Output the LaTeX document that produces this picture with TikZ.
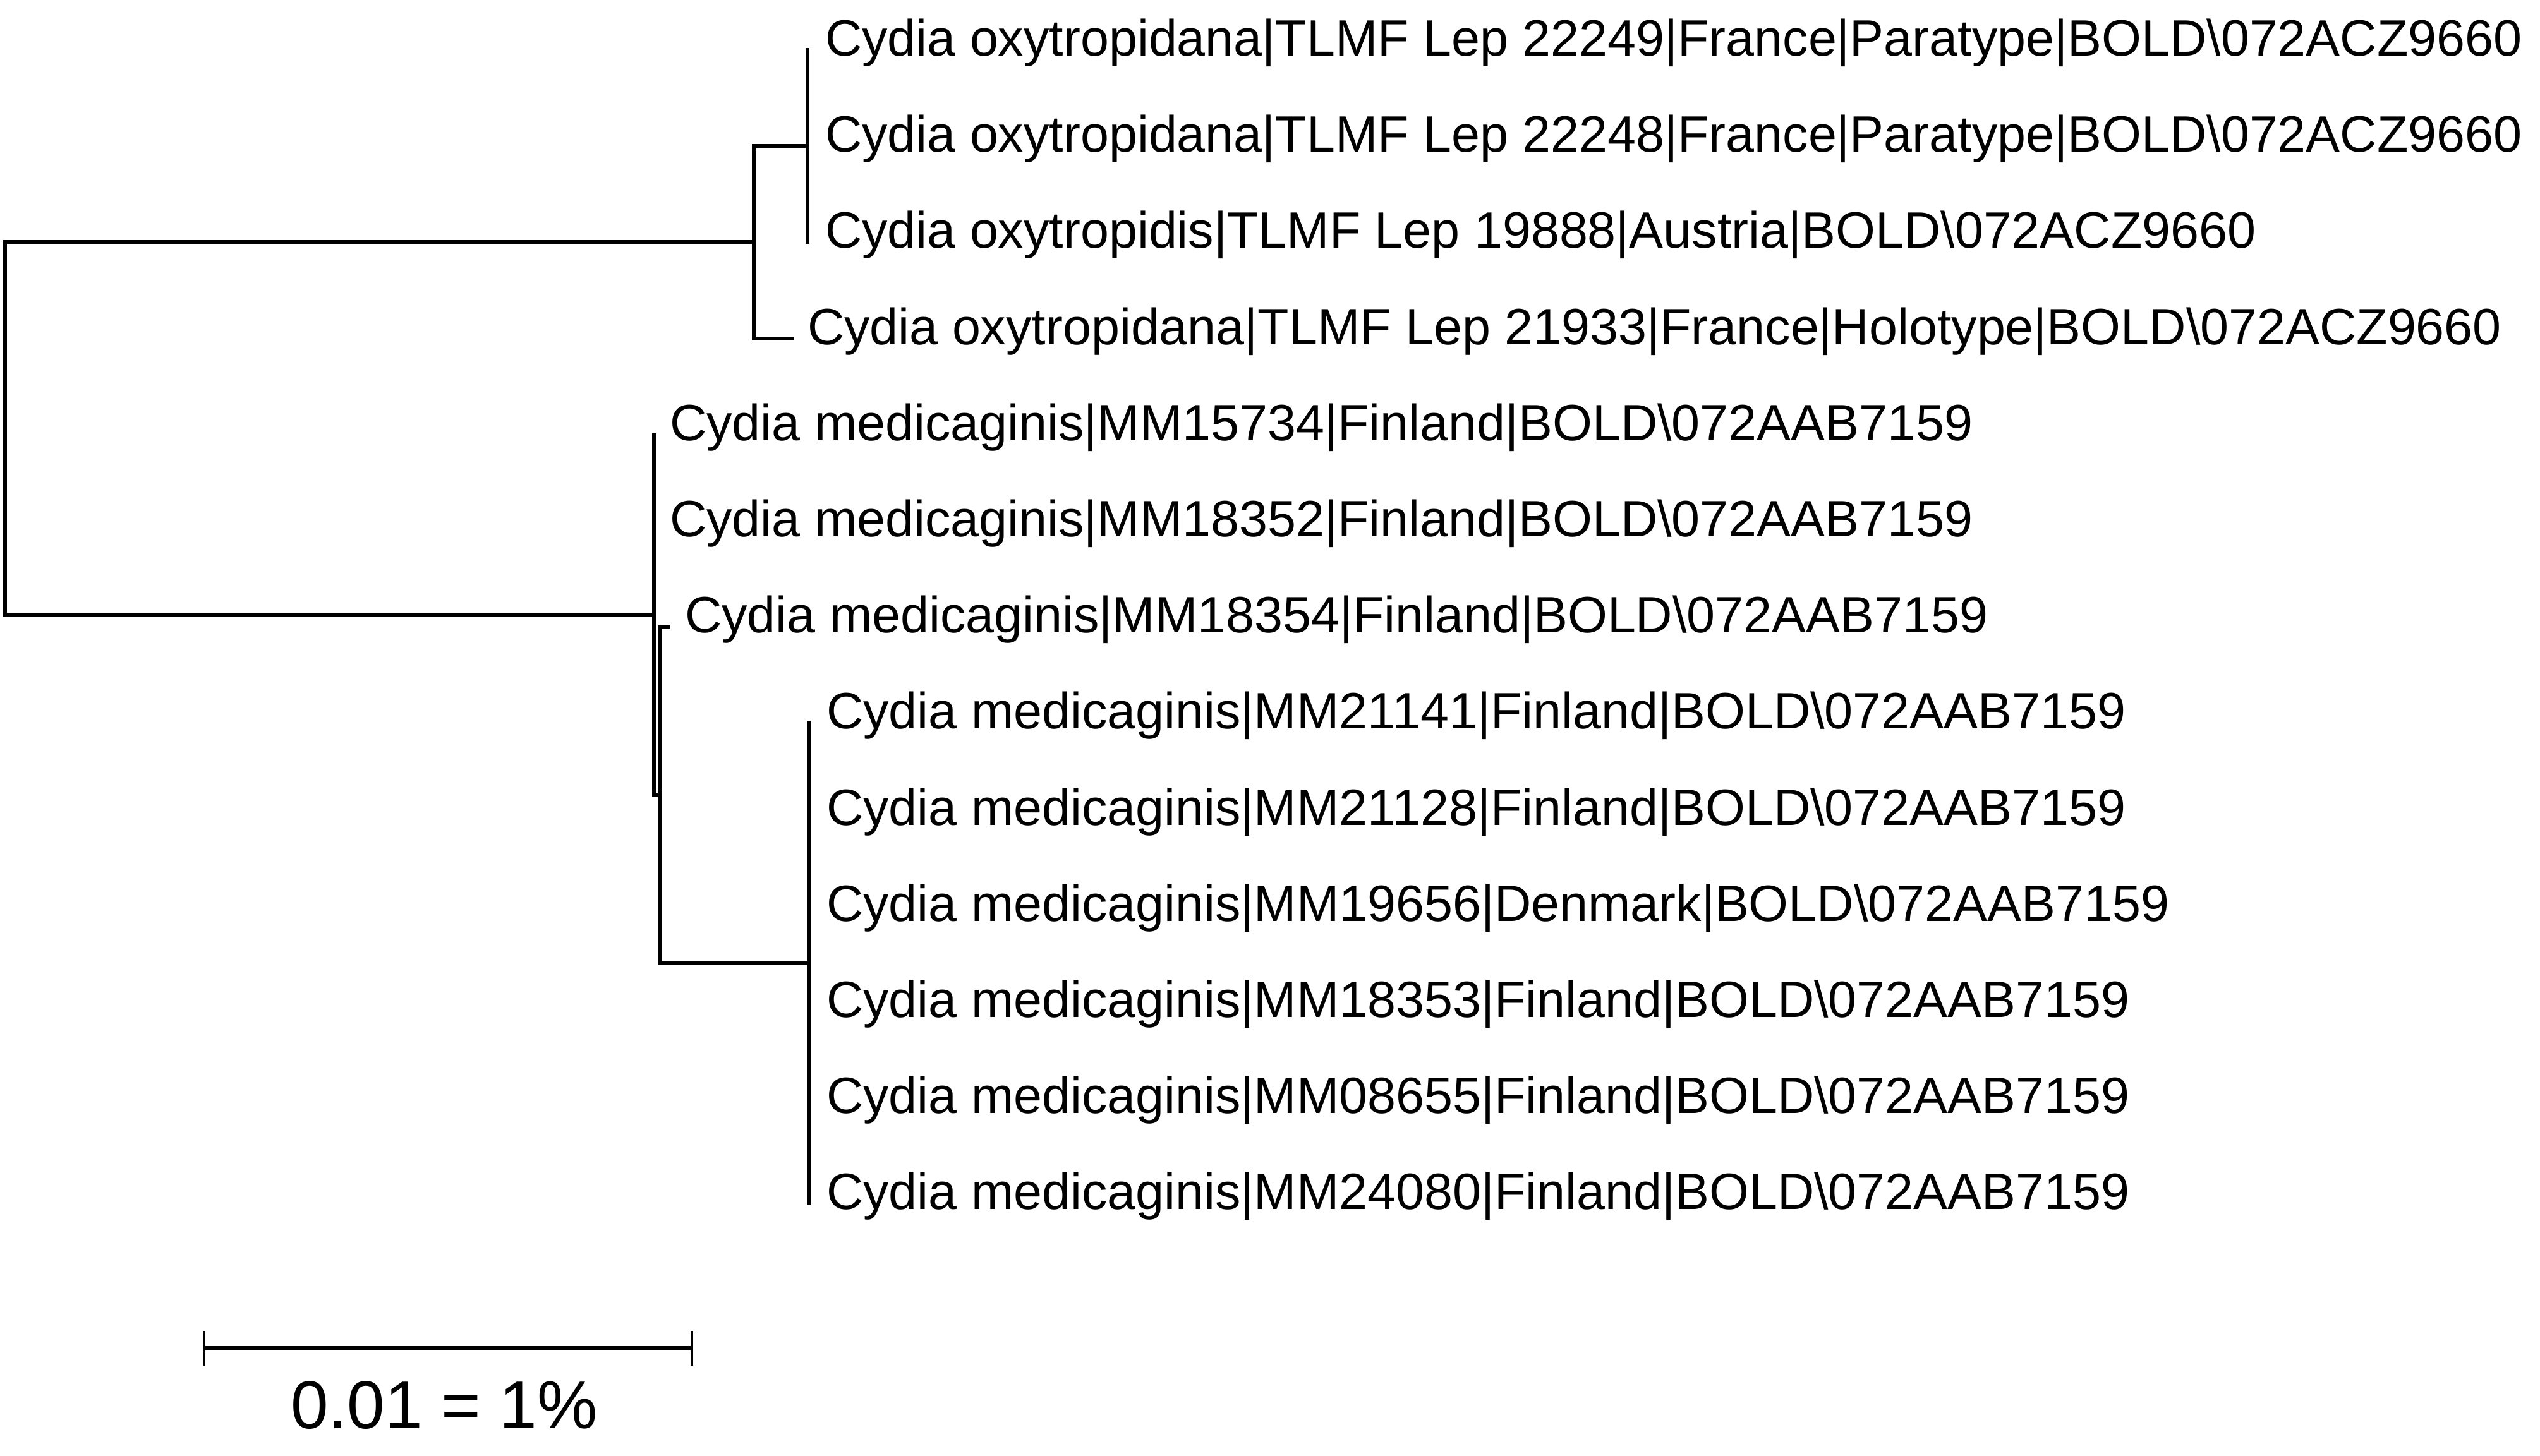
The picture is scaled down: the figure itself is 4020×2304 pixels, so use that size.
\documentclass[tikz,border=0pt]{standalone}
\usepackage{fontspec}
\setmainfont{Liberation Sans}
\begin{document}
\begin{tikzpicture}[x=0.1mm,y=-0.1mm,
  branch/.style={line width=0.6mm,line join=miter,line cap=rect},
  tickline/.style={line width=0.45mm},
  lab/.style={anchor=mid west,inner sep=0pt,outer sep=0pt,font=\fontsize{23}{27}\selectfont},
  sbtext/.style={anchor=base,inner sep=0pt,font=\fontsize{30.5}{36}\selectfont}]
\useasboundingbox (0,0) rectangle (4020,2304);
% tips
\coordinate (t0) at (1278,79);
\coordinate (t1) at (1278,231);
\coordinate (t2) at (1278,383);
\coordinate (t3) at (1253,536);
\coordinate (t4) at (1035,688);
\coordinate (t5) at (1035,840);
\coordinate (t6) at (1057,992);
\coordinate (t7) at (1280,1144);
\coordinate (t8) at (1280,1297);
\coordinate (t9) at (1280,1449);
\coordinate (t10) at (1280,1601);
\coordinate (t11) at (1280,1753);
\coordinate (t12) at (1280,1905);
% internal nodes
\coordinate (n1) at (1278,231);
\coordinate (n2) at (1193,383);
\coordinate (root) at (8,678);
\coordinate (n3) at (1035,973);
\coordinate (n4) at (1045,1258);
\coordinate (n5) at (1280,1525);
% labels
\node[lab] (l0) at (1306,79) {Cydia oxytropidana|TLMF Lep 22249|France|Paratype|BOLD\textbackslash072ACZ9660};
\node[lab] (l1) at (1306,231) {Cydia oxytropidana|TLMF Lep 22248|France|Paratype|BOLD\textbackslash072ACZ9660};
\node[lab] (l2) at (1306,383) {Cydia oxytropidis|TLMF Lep 19888|Austria|BOLD\textbackslash072ACZ9660};
\node[lab] (l3) at (1278,536) {Cydia oxytropidana|TLMF Lep 21933|France|Holotype|BOLD\textbackslash072ACZ9660};
\node[lab] (l4) at (1060,688) {Cydia medicaginis|MM15734|Finland|BOLD\textbackslash072AAB7159};
\node[lab] (l5) at (1060,840) {Cydia medicaginis|MM18352|Finland|BOLD\textbackslash072AAB7159};
\node[lab] (l6) at (1084,992) {Cydia medicaginis|MM18354|Finland|BOLD\textbackslash072AAB7159};
\node[lab] (l7) at (1308,1144) {Cydia medicaginis|MM21141|Finland|BOLD\textbackslash072AAB7159};
\node[lab] (l8) at (1308,1297) {Cydia medicaginis|MM21128|Finland|BOLD\textbackslash072AAB7159};
\node[lab] (l9) at (1308,1449) {Cydia medicaginis|MM19656|Denmark|BOLD\textbackslash072AAB7159};
\node[lab] (l10) at (1308,1601) {Cydia medicaginis|MM18353|Finland|BOLD\textbackslash072AAB7159};
\node[lab] (l11) at (1308,1753) {Cydia medicaginis|MM08655|Finland|BOLD\textbackslash072AAB7159};
\node[lab] (l12) at (1308,1905) {Cydia medicaginis|MM24080|Finland|BOLD\textbackslash072AAB7159};
% branches
\draw[branch] (t0) -- (t2);
\draw[branch] (t3) -| (n2) |- (n1);
\draw[branch] (n2) -| (root) |- (n3);
\draw[branch] (t4) |- (n4);
\draw[branch] (t6) -| (n4) |- (n5);
\draw[branch] (t7) -- (t12);
% scale bar
\coordinate (sb1) at (323,2134);
\coordinate (sb2) at (1095,2134);
\coordinate (sb1a) at (323,2107);
\coordinate (sb1b) at (323,2162);
\coordinate (sb2a) at (1095,2107);
\coordinate (sb2b) at (1095,2162);
\draw[line width=0.6mm] (sb1) -- (sb2);
\draw[tickline] (sb1a) -- (sb1b);
\draw[tickline] (sb2a) -- (sb2b);
\node[sbtext] (sbl) at (703,2261) {0.01 = 1\%};
\end{tikzpicture}
\end{document}
